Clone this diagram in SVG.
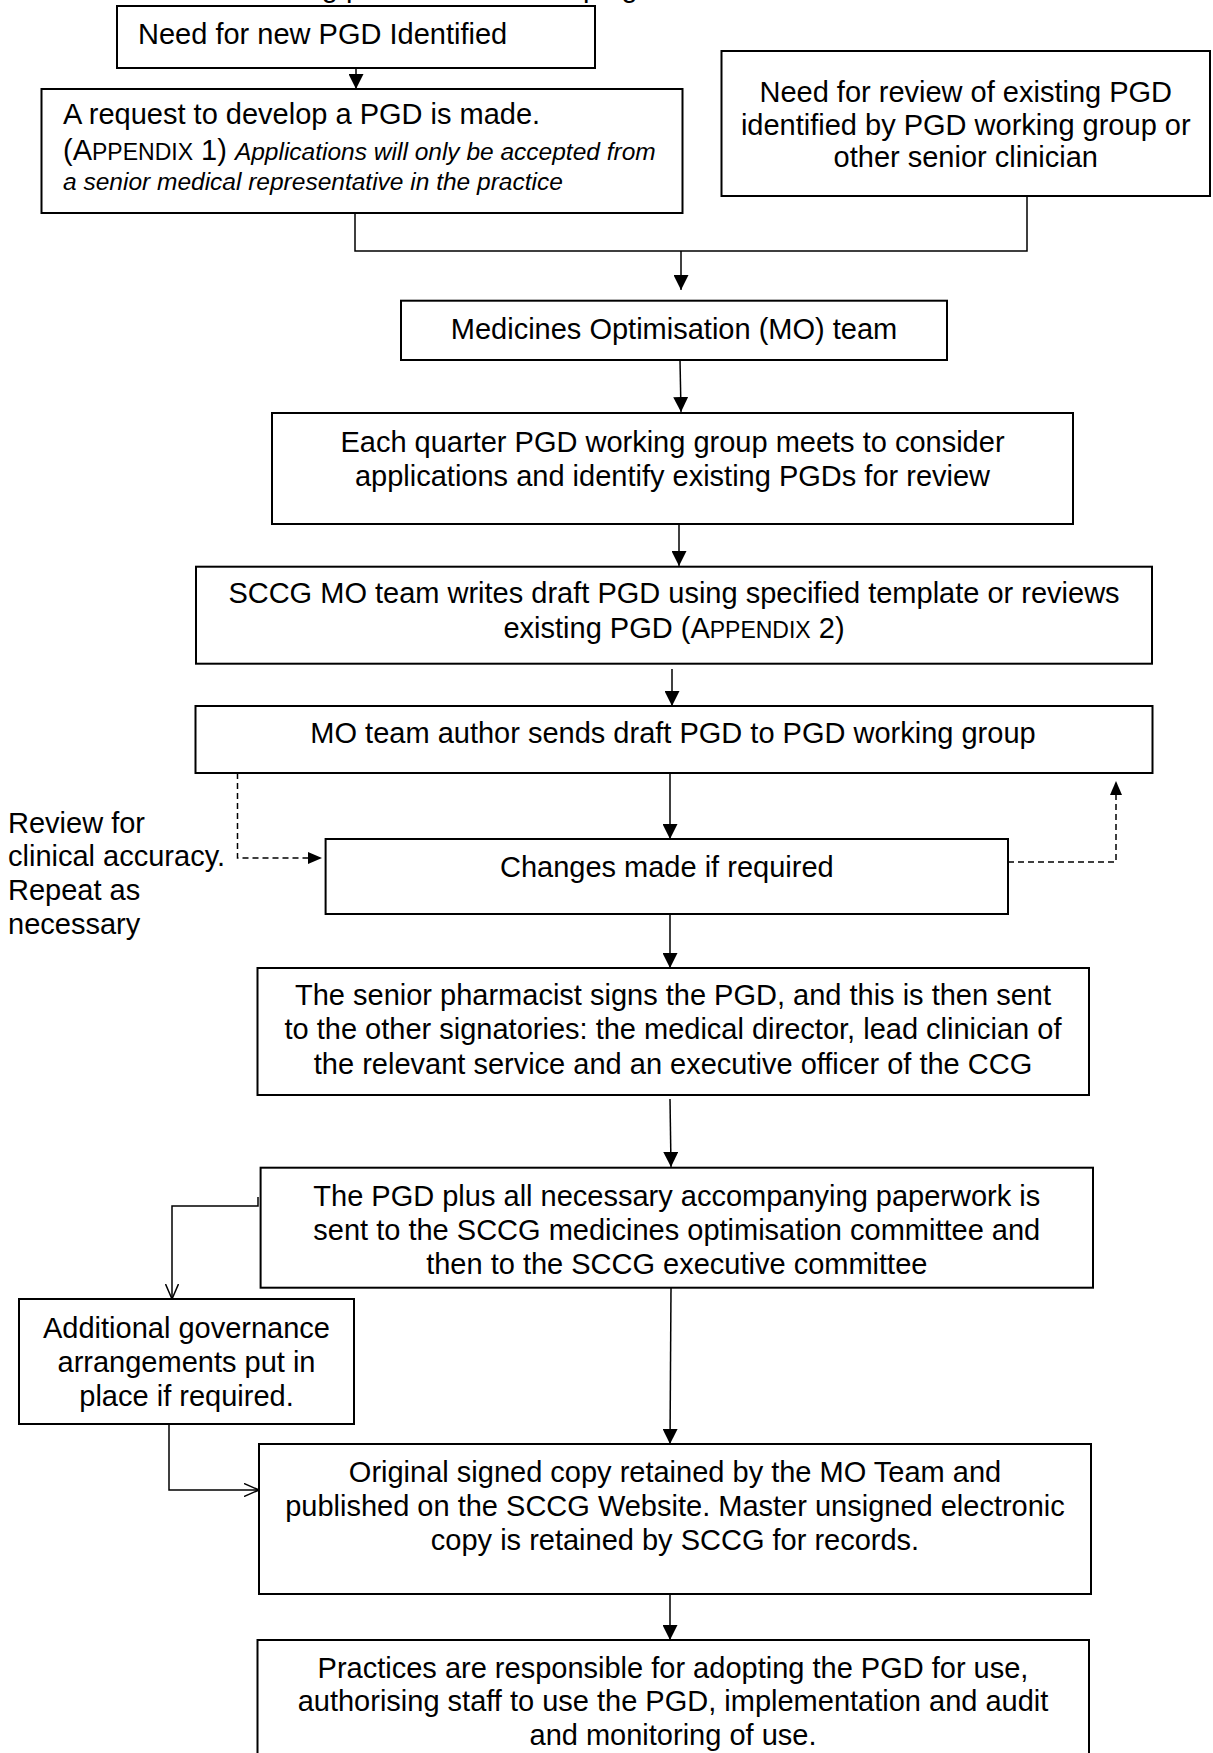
<svg xmlns="http://www.w3.org/2000/svg" width="1213" height="1753" viewBox="0 0 1213 1753">
<defs>
<style>
.box{fill:#fff;stroke:#000;stroke-width:2}
.t{font-family:"Liberation Sans",Arial,sans-serif;font-size:29px;fill:#000}
.c{text-anchor:middle}
.sc{font-size:23px}
.it{font-style:italic;font-size:24.5px}
.ln{fill:none;stroke:#000;stroke-width:1.5}
.ds{fill:none;stroke:#000;stroke-width:1.5;stroke-dasharray:6 4}
</style>
<marker id="ah" markerUnits="userSpaceOnUse" markerWidth="14" markerHeight="15" refX="15" refY="7.5" orient="auto">
<path d="M0,0 L15,7.5 L0,15 z" fill="#000"/>
</marker>
<marker id="ahs" markerUnits="userSpaceOnUse" markerWidth="14" markerHeight="12" refX="14" refY="6" orient="auto">
<path d="M0,0 L14,6 L0,12 z" fill="#000"/>
</marker>
<marker id="ao" markerUnits="userSpaceOnUse" markerWidth="16" markerHeight="14" refX="15" refY="7" orient="auto">
<path d="M0,0.5 L15,7 L0,13.5" fill="none" stroke="#000" stroke-width="1.5"/>
</marker>
</defs>
<rect width="1213" height="1753" fill="#fff"/>

<text class="t" x="167" y="-3">The following process for developing PGDs</text>

<g id="connectors">
<path class="ln" d="M356 68 V89" marker-end="url(#ah)"/>
<path class="ln" d="M355 213 V251 H1027 V196"/>
<path class="ln" d="M681 251 V290" marker-end="url(#ah)"/>
<path class="ln" d="M680 360 L681 412" marker-end="url(#ah)"/>
<path class="ln" d="M679 524 V566" marker-end="url(#ah)"/>
<path class="ln" d="M672 669 V706" marker-end="url(#ah)"/>
<path class="ln" d="M670 773 V839" marker-end="url(#ah)"/>
<path class="ds" d="M237.5 773 V858 H322" marker-end="url(#ahs)"/>
<path class="ds" d="M1008 862 H1116 V781" marker-end="url(#ahs)"/>
<path class="ln" d="M670 914 V968" marker-end="url(#ah)"/>
<path class="ln" d="M670 1099 L671 1167" marker-end="url(#ah)"/>
<path class="ln" d="M671 1288 L670 1444" marker-end="url(#ah)"/>
<path class="ln" d="M670 1594 V1640" marker-end="url(#ah)"/>
<path class="ln" d="M258 1197 V1206 H172 V1299" marker-end="url(#ao)"/>
<path class="ln" d="M169 1424 V1490 H259" marker-end="url(#ao)"/>
</g>

<g id="n1">
<rect class="box" x="117" y="6" width="478" height="62"/>
<text class="t" x="138" y="44">Need for new PGD Identified</text>
</g>

<g id="n2">
<rect class="box" x="41.5" y="89" width="641" height="124"/>
<text class="t" x="63" y="124">A request to develop a PGD is made.</text>
<text class="t" x="63" y="160">(A<tspan class="sc">PPENDIX</tspan> 1) <tspan class="it">Applications will only be accepted from</tspan></text>
<text class="t it" x="63" y="190">a senior medical representative in the practice</text>
</g>

<g id="n3">
<rect class="box" x="721.5" y="51" width="488.5" height="145"/>
<text class="t c" x="965.75" y="102">Need for review of existing PGD</text>
<text class="t c" x="965.75" y="134.5">identified by PGD working group or</text>
<text class="t c" x="965.75" y="167">other senior clinician</text>
</g>

<g id="n4">
<rect class="box" x="401" y="300.7" width="546" height="59.3"/>
<text class="t c" x="674" y="339">Medicines Optimisation (MO) team</text>
</g>

<g id="n5">
<rect class="box" x="272" y="413" width="801" height="111"/>
<text class="t c" x="672.5" y="452">Each quarter PGD working group meets to consider</text>
<text class="t c" x="672.5" y="486">applications and identify existing PGDs for review</text>
</g>

<g id="n6">
<rect class="box" x="196" y="566.7" width="956" height="97"/>
<text class="t c" x="674" y="603">SCCG MO team writes draft PGD using specified template or reviews</text>
<text class="t c" x="674" y="638">existing PGD (A<tspan class="sc">PPENDIX</tspan> 2)</text>
</g>

<g id="n7">
<rect class="box" x="195.5" y="706" width="957" height="67"/>
<text class="t c" x="673" y="743">MO team author sends draft PGD to PGD working group</text>
</g>

<g id="label-review">
<text class="t" x="8" y="833">Review for</text>
<text class="t" x="8" y="866">clinical accuracy.</text>
<text class="t" x="8" y="900">Repeat as</text>
<text class="t" x="8" y="934">necessary</text>
</g>

<g id="n8">
<rect class="box" x="325.6" y="839" width="682.4" height="75"/>
<text class="t c" x="666.8" y="877">Changes made if required</text>
</g>

<g id="n9">
<rect class="box" x="257.5" y="968" width="831.5" height="127"/>
<text class="t c" x="673" y="1005">The senior pharmacist signs the PGD, and this is then sent</text>
<text class="t c" x="673" y="1039">to the other signatories: the medical director, lead clinician of</text>
<text class="t c" x="673" y="1074">the relevant service and an executive officer of the CCG</text>
</g>

<g id="n10">
<rect class="box" x="260.6" y="1167.7" width="832.4" height="120"/>
<text class="t c" x="676.8" y="1206">The PGD plus all necessary accompanying paperwork is</text>
<text class="t c" x="676.8" y="1240">sent to the SCCG medicines optimisation committee and</text>
<text class="t c" x="676.8" y="1274">then to the SCCG executive committee</text>
</g>

<g id="n11">
<rect class="box" x="19" y="1299" width="335" height="125"/>
<text class="t c" x="186.5" y="1338">Additional governance</text>
<text class="t c" x="186.5" y="1372">arrangements put in</text>
<text class="t c" x="186.5" y="1406">place if required.</text>
</g>

<g id="n12">
<rect class="box" x="259" y="1444" width="832" height="150"/>
<text class="t c" x="675" y="1482">Original signed copy retained by the MO Team and</text>
<text class="t c" x="675" y="1516">published on the SCCG Website. Master unsigned electronic</text>
<text class="t c" x="675" y="1550">copy is retained by SCCG for records.</text>
</g>

<g id="n13">
<rect class="box" x="257.5" y="1640" width="831.5" height="130"/>
<text class="t c" x="673" y="1678">Practices are responsible for adopting the PGD for use,</text>
<text class="t c" x="673" y="1711">authorising staff to use the PGD, implementation and audit</text>
<text class="t c" x="673" y="1745">and monitoring of use.</text>
</g>
</svg>
